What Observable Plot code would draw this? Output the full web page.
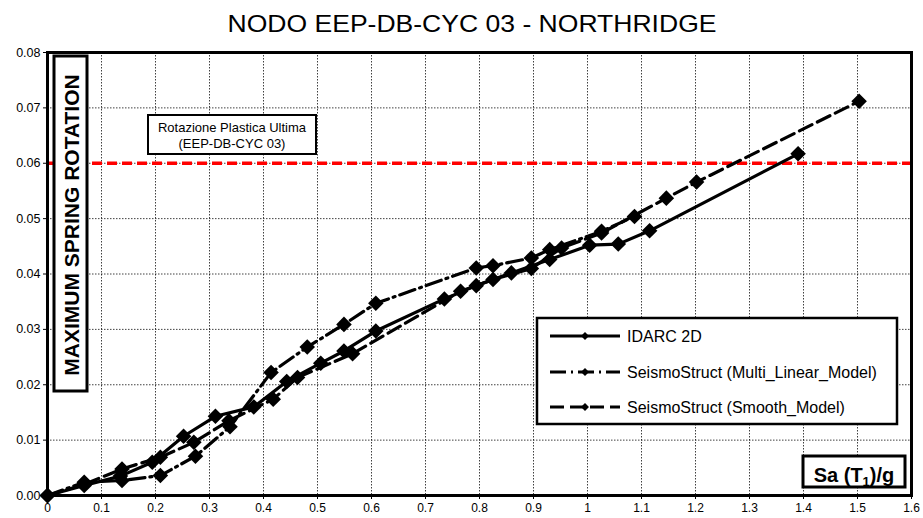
<!DOCTYPE html>
<html>
<head>
<meta charset="utf-8">
<script src="https://cdn.jsdelivr.net/npm/d3@7"></script>
<script src="https://cdn.jsdelivr.net/npm/@observablehq/plot@0.6"></script>
<style>
  html, body { margin: 0; padding: 0; background: #fff; }
  #chart { width: 923px; height: 518px; }
</style>
</head>
<body>
<div id="chart"></div>
<script>
// ---- data ----
const titleText = "NODO EEP-DB-CYC 03 - NORTHRIDGE";
const yLabel = "MAXIMUM SPRING ROTATION";
const seriesNames = ["IDARC 2D", "SeismoStruct (Multi_Linear_Model)", "SeismoStruct (Smooth_Model)"];

const idarcX = [0, 0.068, 0.135, 0.194, 0.252, 0.311, 0.382, 0.443, 0.506, 0.549, 0.608, 0.735, 0.794, 0.859, 0.930, 1.004, 1.057, 1.115, 1.390];
const idarcY = [0, 0.0018, 0.0035, 0.0060, 0.0107, 0.0143, 0.0160, 0.0206, 0.0239, 0.0261, 0.0297, 0.0355, 0.0379, 0.0402, 0.0426, 0.0452, 0.0454, 0.0478, 0.0617];

const multiX = [0, 0.068, 0.138, 0.209, 0.274, 0.338, 0.414, 0.481, 0.549, 0.608, 0.794, 0.825, 0.896, 0.930, 1.026, 1.087];
const multiY = [0, 0.0024, 0.0027, 0.0036, 0.0071, 0.0124, 0.0222, 0.0268, 0.0309, 0.0347, 0.0411, 0.0415, 0.0429, 0.0444, 0.0477, 0.0504];

const smoothX = [0, 0.068, 0.138, 0.209, 0.271, 0.336, 0.418, 0.463, 0.565, 0.765, 0.825, 0.896, 0.952, 1.026, 1.146, 1.202, 1.503];
const smoothY = [0, 0.0020, 0.0048, 0.0069, 0.0096, 0.0135, 0.0174, 0.0213, 0.0256, 0.0369, 0.0390, 0.0410, 0.0447, 0.0474, 0.0537, 0.0566, 0.0712];

const plasticLimit = 0.06;
const plasticLabel = ["Rotazione Plastica Ultima", "(EEP-DB-CYC 03)"];

const xTicks = [0, 0.1, 0.2, 0.3, 0.4, 0.5, 0.6, 0.7, 0.8, 0.9, 1.0, 1.1, 1.2, 1.3, 1.4, 1.5, 1.6];
const yTicks = [0, 0.01, 0.02, 0.03, 0.04, 0.05, 0.06, 0.07, 0.08];

// ---- build tables ----
const mk = (xs, ys, s) => xs.map((x, i) => ({x, y: ys[i], s}));
const idarc = mk(idarcX, idarcY, seriesNames[0]);
const multi = mk(multiX, multiY, seriesNames[1]);
const smooth = mk(smoothX, smoothY, seriesNames[2]);

const FONT = "'Liberation Sans', Arial, Helvetica, sans-serif";
const dashMulti = "16,5,2,5";
const dashSmooth = "14,6";

const chart = Plot.plot({
  width: 923,
  height: 518,
  marginLeft: 47,
  marginRight: 12,
  marginTop: 52,
  marginBottom: 23,
  style: {fontFamily: FONT, fontSize: "12px", background: "#fff", color: "#000"},
  x: {domain: [0, 1.6]},
  y: {domain: [0, 0.08]},
  marks: [
    Plot.gridX(xTicks, {stroke: "#000", strokeOpacity: 0.75, strokeWidth: 1, strokeDasharray: "1.5,1.5"}),
    Plot.gridY(yTicks, {stroke: "#000", strokeOpacity: 0.75, strokeWidth: 1, strokeDasharray: "1.5,1.5"}),
    Plot.ruleY([plasticLimit], {stroke: "#ff0000", strokeWidth: 3.5, strokeDasharray: "10,5"}),
    Plot.line(smooth, {x: "x", y: "y", stroke: "#000", strokeWidth: 3.2, strokeDasharray: dashSmooth}),
    Plot.line(multi, {x: "x", y: "y", stroke: "#000", strokeWidth: 3.2, strokeDasharray: dashMulti}),
    Plot.line(idarc, {x: "x", y: "y", stroke: "#000", strokeWidth: 3.2}),
    Plot.dot(smooth, {x: "x", y: "y", symbol: "diamond2", r: 7, fill: "#000"}),
    Plot.dot(multi, {x: "x", y: "y", symbol: "diamond2", r: 7, fill: "#000"}),
    Plot.dot(idarc, {x: "x", y: "y", symbol: "diamond2", r: 7, fill: "#000"}),
    Plot.frame({stroke: "#000", strokeWidth: 3}),
    Plot.axisX(xTicks, {tickSize: 4, tickPadding: 4, label: null, fontSize: 12,
      tickFormat: d => String(+d.toFixed(1))}),
    Plot.axisY(yTicks, {tickSize: 4, tickPadding: 3, label: null, fontSize: 12.5,
      tickFormat: d3.format(".2f")})
  ]
});

document.getElementById("chart").appendChild(chart);

// ---- annotations ----
const svg = d3.select(chart);

// Title
svg.append("text")
  .attr("x", 472).attr("y", 32)
  .attr("text-anchor", "middle")
  .attr("font-family", FONT).attr("font-size", 24)
  .attr("textLength", 489).attr("lengthAdjust", "spacingAndGlyphs")
  .attr("fill", "#000")
  .text(titleText);

// Plastic limit label box
const pg = svg.append("g");
pg.append("rect").attr("x", 148).attr("y", 115).attr("width", 168).attr("height", 39)
  .attr("fill", "#fff").attr("stroke", "#000").attr("stroke-width", 2);
pg.append("text").attr("x", 232).attr("y", 131.5).attr("text-anchor", "middle")
  .attr("font-family", FONT).attr("font-size", 13).attr("fill", "#000").text(plasticLabel[0]);
pg.append("text").attr("x", 232).attr("y", 148).attr("text-anchor", "middle")
  .attr("font-family", FONT).attr("font-size", 13).attr("fill", "#000").text(plasticLabel[1]);

// Y label box
const yg = svg.append("g");
yg.append("rect").attr("x", 54).attr("y", 56).attr("width", 33).attr("height", 335)
  .attr("fill", "#fff").attr("stroke", "#000").attr("stroke-width", 3);
yg.append("text")
  .attr("transform", "translate(71,225) rotate(-90)")
  .attr("text-anchor", "middle").attr("dy", "0.36em")
  .attr("font-family", FONT).attr("font-size", 21).attr("font-weight", "bold")
  .attr("fill", "#000")
  .text(yLabel);

// X label box
const xg = svg.append("g");
xg.append("rect").attr("x", 803).attr("y", 456).attr("width", 102).attr("height", 31)
  .attr("fill", "#fff").attr("stroke", "#000").attr("stroke-width", 3);
const xt = xg.append("text").attr("x", 854).attr("y", 482).attr("text-anchor", "middle")
  .attr("font-family", FONT).attr("font-size", 20).attr("font-weight", "bold").attr("fill", "#000");
xt.append("tspan").text("Sa (T");
xt.append("tspan").attr("font-size", 13).attr("dy", 4).text("1");
xt.append("tspan").attr("dy", -4).text(")/g");

// Legend
const lg = svg.append("g");
lg.append("rect").attr("x", 537).attr("y", 318).attr("width", 360).attr("height", 106)
  .attr("fill", "#fff").attr("stroke", "#000").attr("stroke-width", 2.5);
const legendRows = [
  {name: seriesNames[0], dash: null, y: 336},
  {name: seriesNames[1], dash: dashMulti, y: 372},
  {name: seriesNames[2], dash: dashSmooth, y: 407}
];
legendRows.forEach(r => {
  const ln = lg.append("line").attr("x1", 550).attr("x2", 620).attr("y1", r.y).attr("y2", r.y)
    .attr("stroke", "#000").attr("stroke-width", 3);
  if (r.dash) ln.attr("stroke-dasharray", r.dash);
  lg.append("path").attr("d", d3.symbol(d3.symbolDiamond2, 40)())
    .attr("transform", `translate(585,${r.y})`).attr("fill", "#000");
  lg.append("text").attr("x", 627).attr("y", r.y).attr("dy", "0.36em")
    .attr("text-anchor", "start")
    .attr("font-family", FONT).attr("font-size", 16).attr("fill", "#000").text(r.name);
});
</script>
</body>
</html>
